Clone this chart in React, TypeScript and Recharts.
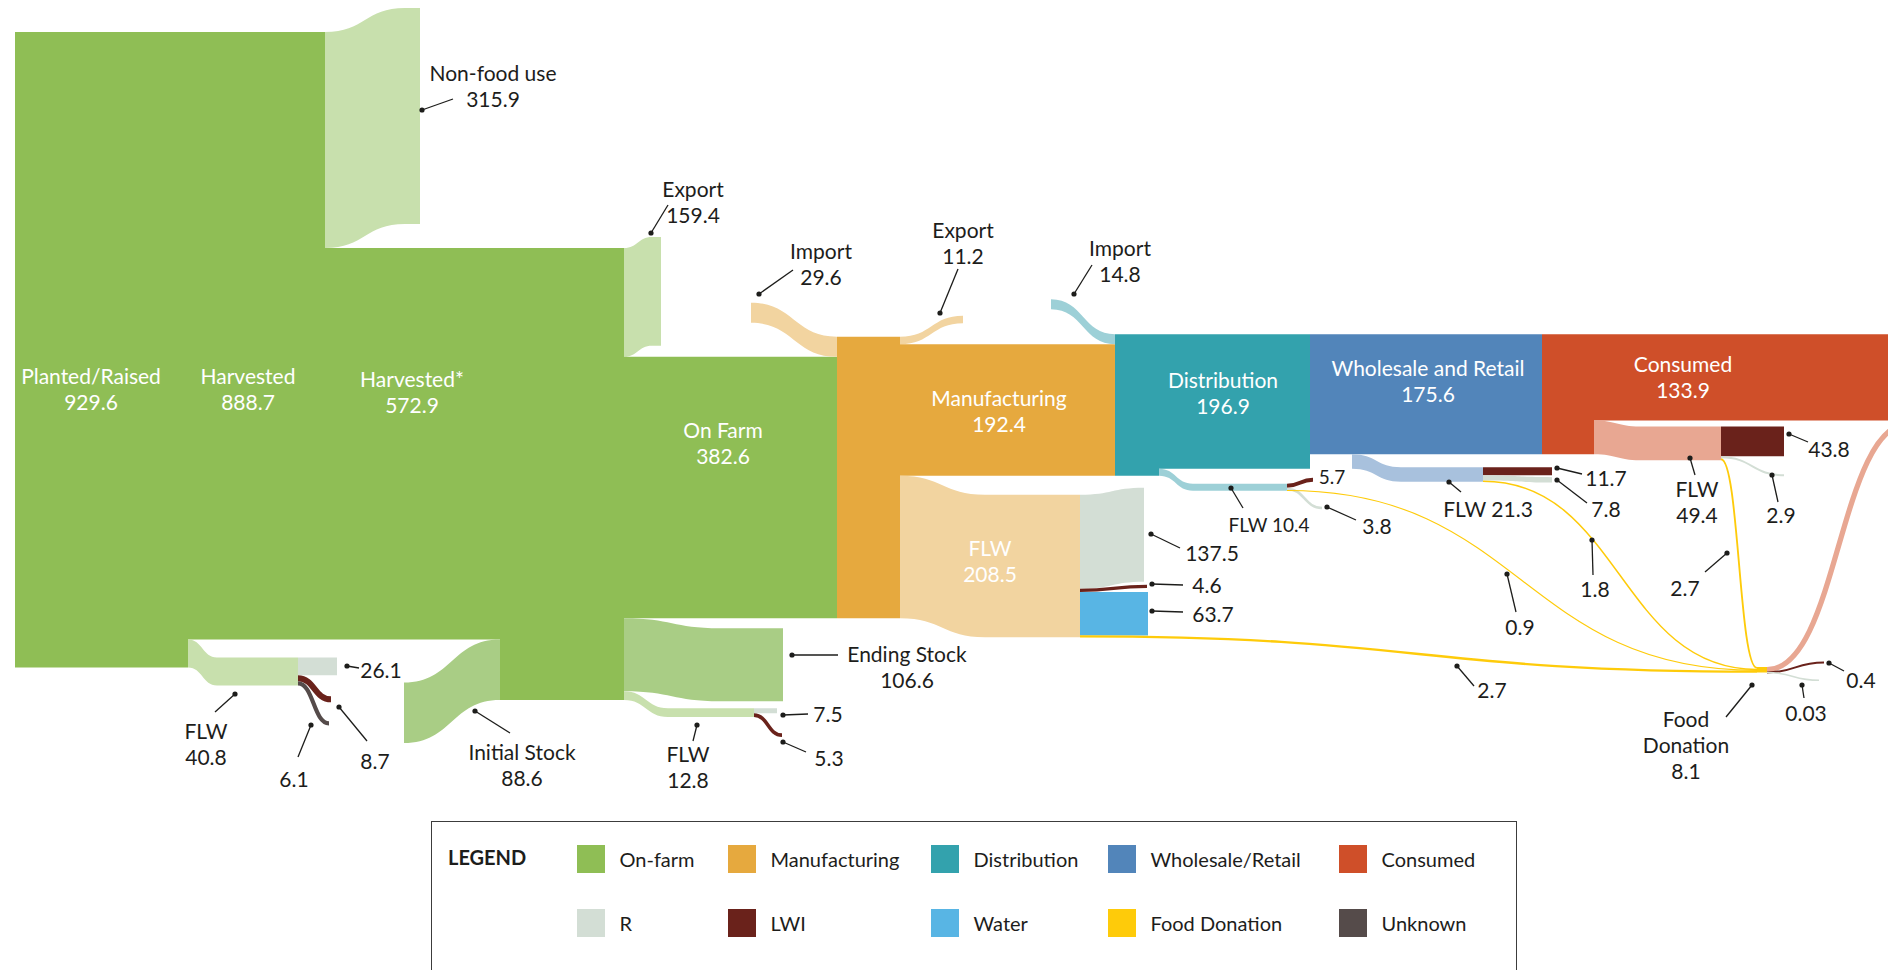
import React from 'react';
import { ComposedChart, XAxis, YAxis, Scatter, ReferenceArea, ReferenceLine, ReferenceDot } from 'recharts';

const W = 1888;
const H = 970;
const K = 0.6835; // px per unit of flow
const FONT = 'Lato, "Open Sans", sans-serif';
const INK = '#1d1d1b';

// main stream stages
const stageLabels = ['Planted/Raised', 'Harvested', 'Harvested*', 'On Farm', 'Manufacturing', 'Distribution', 'Wholesale and Retail', 'Consumed'];
const stageValues = [929.6, 888.7, 572.9, 382.6, 192.4, 196.9, 175.6, 133.9];

// flows joining or leaving the stream
const sideLabels = ['Non-food use', 'Export', 'Initial Stock', 'Ending Stock', 'Import', 'Export', 'Import'];
const sideValues = [315.9, 159.4, 88.6, 106.6, 29.6, 11.2, 14.8];

// FLW at each stage and where it goes
const flwTotals = [40.8, 12.8, 208.5, 10.4, 21.3, 49.4];
const flwToR = [26.1, 7.5, 137.5, 3.8, 7.8, 2.9];
const flwToLWI = [8.7, 5.3, 4.6, 5.7, 11.7, 43.8];
const flwToWater = [0, 0, 63.7, 0, 0, 0];
const flwToUnknown = [6.1, 0, 0, 0, 0, 0];
const flwToDonation = [0, 0, 2.7, 0.9, 1.8, 2.7];

// food donation -> consumed, LWI, unknown
const donationTotal = 8.1;
const donationOut = [7.7, 0.4, 0.03];

const C = {
  green: '#8fbe55', greenLight: '#c8e0ad', greenMid: '#a9cd85',
  orange: '#e6a93e', orangeLight: '#f2d4a0',
  teal: '#33a2ad', tealLight: '#9dd0d7',
  blue: '#5285ba', blueLight: '#a8c1dd',
  red: '#cf4f29', pink: '#e8a792',
  r: '#d3ded5', lwi: '#6a221b', water: '#58b5e4', fd: '#fecb0a', unknown: '#554b4a',
};

const legendLabels = ['On-farm', 'Manufacturing', 'Distribution', 'Wholesale/Retail', 'Consumed', 'R', 'LWI', 'Water', 'Food Donation', 'Unknown'];
const legendColors = [C.green, C.orange, C.teal, C.blue, C.red, C.r, C.lwi, C.water, C.fd, C.unknown];

// ---- layout (x in px, y in flow units) ----
type Mark = { x1: number; x2: number; s: number; t: number; v: number; fill: string; line?: boolean; minW?: number };
const marks: Mark[] = [];
const u = (px: number) => px / K;
const band = (x1: number, x2: number, s: number, t: number, v: number, fill: string) => marks.push({ x1, x2, s, t, v, fill });
const line = (x1: number, x2: number, s: number, t: number, v: number, fill: string, minW = 1.1) =>
  marks.push({ x1, x2, s, t, v, fill, line: true, minW });

const [P, HV, HS, OF, MF, DS, WR] = stageValues;
const [NF, EX1, IS, ES, IM1, EX2, IM2] = sideValues;
const top = u(32);

// on farm
band(15, 188, top, top, P, C.green);
band(188, 325, top, top, HV, C.green);
const f0s = top + P - flwTotals[0];
const f0 = f0s + u(18);
band(188, 217, f0s, f0, flwTotals[0], C.greenLight);
band(217, 298, f0, f0, flwTotals[0], C.greenLight);
band(298, 337, f0, f0, flwToR[0], C.r);
line(298, 331, f0 + flwToR[0], f0 + flwToR[0] + u(21), flwToLWI[0], C.lwi);
line(298, 329, f0 + flwToR[0] + flwToLWI[0], f0 + flwToR[0] + flwToLWI[0] + u(40), flwToUnknown[0], C.unknown);

band(325, 405, top, top - u(24), NF, C.greenLight);
band(405, 420, top - u(24), top - u(24), NF, C.greenLight);
band(325, 500, top + NF, top + NF, HS, C.green);
band(404, 500, top + HV + u(43), top + HV, IS, C.greenMid);
band(500, 624, top + NF, top + NF, HS + IS, C.green);
band(624, 652, top + NF, top + NF - u(11), EX1, C.greenLight);
band(652, 661, top + NF - u(11), top + NF - u(11), EX1, C.greenLight);

const ofTop = top + NF + EX1;
band(624, 837, ofTop, ofTop, OF, C.green);
const esTop = ofTop + OF;
band(624, 720, esTop, esTop + u(10), ES, C.greenMid);
band(720, 783, esTop + u(10), esTop + u(10), ES, C.greenMid);
const f1s = esTop + ES;
const f1 = f1s + u(17);
band(624, 668, f1s, f1, flwTotals[1], C.greenLight);
band(668, 754, f1, f1, flwTotals[1], C.greenLight);
band(754, 777, f1, f1, flwToR[1], C.r);
line(754, 782, f1 + flwToR[1], f1 + flwToR[1] + u(20), flwToLWI[1], C.lwi);

// manufacturing
const mTop = ofTop - IM1;
band(751, 837, mTop - u(34), mTop, IM1, C.orangeLight);
band(837, 900, mTop, mTop, IM1 + OF, C.orange);
band(900, 963, mTop, mTop - u(21), EX2, C.orangeLight);
const m2 = mTop + EX2;
band(900, 1115, m2, m2, MF, C.orange);
const f2s = m2 + MF;
const f2 = f2s + u(19);
band(900, 985, f2s, f2, flwTotals[2], C.orangeLight);
band(985, 1080, f2, f2, flwTotals[2], C.orangeLight);
band(1080, 1144, f2, f2 - u(7), flwToR[2], C.r);
line(1080, 1147, f2 + flwToR[2], f2 + flwToR[2] - u(4), flwToLWI[2], C.lwi, 2.4);
const w2 = f2 + flwToR[2] + flwToLWI[2];
band(1080, 1148, w2, w2, flwToWater[2], C.water);
const fd2 = w2 + flwToWater[2];

// distribution
const dTop = m2 - IM2;
band(1051, 1115, dTop - u(35), dTop, IM2, C.tealLight);
band(1115, 1159, dTop, dTop, IM2 + MF, C.teal);
band(1159, 1310, dTop, dTop, DS, C.teal);
const f3s = dTop + DS;
const f3 = f3s + u(15);
band(1159, 1193, f3s, f3, flwTotals[3], C.tealLight);
band(1193, 1287, f3, f3, flwTotals[3], C.tealLight);
line(1287, 1313, f3, f3 - u(6), flwToLWI[3], C.lwi);
line(1287, 1322, f3 + flwToLWI[3], f3 + flwToLWI[3] + u(19), flwToR[3], C.r);
const fd3 = f3 + flwToLWI[3] + flwToR[3];

// wholesale and retail
band(1310, 1542, dTop, dTop, WR, C.blue);
const f4s = dTop + WR;
const f4 = f4s + u(13);
band(1352, 1401, f4s, f4, flwTotals[4], C.blueLight);
band(1401, 1483, f4, f4, flwTotals[4], C.blueLight);
band(1483, 1552, f4, f4, flwToLWI[4], C.lwi);
band(1483, 1552, f4 + flwToLWI[4], f4 + flwToLWI[4] + u(2), flwToR[4], C.r);
const fd4 = f4 + flwToLWI[4] + flwToR[4];

// consumed
band(1542, 1594, dTop, dTop, WR, C.red);
const c2 = WR - flwTotals[5];
band(1594, W, dTop, dTop, c2, C.red);
const f5s = dTop + c2;
const f5 = f5s + u(6);
band(1594, 1640, f5s, f5, flwTotals[5], C.pink);
band(1640, 1721, f5, f5, flwTotals[5], C.pink);
band(1721, 1784, f5, f5, flwToLWI[5], C.lwi);
line(1721, 1784, f5 + flwToLWI[5], f5 + flwToLWI[5] + u(18), flwToR[5], C.r);
const fd5 = f5 + flwToLWI[5] + flwToR[5];

// food donation
const fdTop = u(667);
let q = fdTop;
line(1721, 1757, fd5, q, flwToDonation[5], C.fd, 1.6); q += flwToDonation[5];
line(1483, 1757, fd4, q, flwToDonation[4], C.fd, 1.5); q += flwToDonation[4];
line(1287, 1757, fd3, q, flwToDonation[3], C.fd, 1.1); q += flwToDonation[3];
line(1080, 1757, fd2, q, flwToDonation[2], C.fd, 2.4);
band(1757, 1767, fdTop, fdTop, donationTotal, C.fd);
line(1767, 1910, fdTop, dTop + c2, donationOut[0], C.pink);
line(1767, 1824, fdTop + donationOut[0], fdTop + donationOut[0] - u(10), donationOut[1], C.lwi, 2);
line(1767, 1819, fdTop + donationOut[0] + donationOut[1], fdTop + donationOut[0] + u(8), donationOut[2], C.r, 1.5);

// ---- labels ----
type Note = { text: string[]; at: [number, number]; dot?: [number, number]; end?: [number, number]; size?: number };
const fmt = (v: number) => String(v);

const inside: Note[] = [
  { text: [stageLabels[0], fmt(stageValues[0])], at: [91, 375] },
  { text: [stageLabels[1], fmt(stageValues[1])], at: [248, 375] },
  { text: [stageLabels[2], fmt(stageValues[2])], at: [412, 378] },
  { text: [stageLabels[3], fmt(stageValues[3])], at: [723, 429] },
  { text: [stageLabels[4], fmt(stageValues[4])], at: [999, 397] },
  { text: ['FLW', fmt(flwTotals[2])], at: [990, 547] },
  { text: [stageLabels[5], fmt(stageValues[5])], at: [1223, 379] },
  { text: [stageLabels[6], fmt(stageValues[6])], at: [1428, 367] },
  { text: [stageLabels[7], fmt(stageValues[7])], at: [1683, 363] },
];

const notes: Note[] = [
  { text: [sideLabels[0], fmt(sideValues[0])], at: [493, 72], dot: [422, 110], end: [453, 99] },
  { text: [sideLabels[1], fmt(sideValues[1])], at: [693, 188], dot: [651, 233], end: [668, 205] },
  { text: [sideLabels[4], fmt(sideValues[4])], at: [821, 250], dot: [759, 294], end: [793, 270] },
  { text: [sideLabels[5], fmt(sideValues[5])], at: [963, 229], dot: [940, 313], end: [958, 269] },
  { text: [sideLabels[6], fmt(sideValues[6])], at: [1120, 247], dot: [1074, 294], end: [1092, 265] },
  { text: [sideLabels[2], fmt(sideValues[2])], at: [522, 751], dot: [475, 711], end: [510, 733] },
  { text: [sideLabels[3], fmt(sideValues[3])], at: [907, 653], dot: [792, 655], end: [838, 655] },
  { text: ['FLW', fmt(flwTotals[0])], at: [206, 730], dot: [235, 694], end: [215, 712] },
  { text: [fmt(flwToR[0])], at: [381, 669], dot: [347, 666], end: [359, 668] },
  { text: [fmt(flwToLWI[0])], at: [375, 760], dot: [339, 707], end: [367, 741] },
  { text: [fmt(flwToUnknown[0])], at: [294, 778], dot: [311, 725], end: [298, 757] },
  { text: ['FLW', fmt(flwTotals[1])], at: [688, 753], dot: [697, 725], end: [693, 741] },
  { text: [fmt(flwToR[1])], at: [828, 713], dot: [783, 715], end: [808, 714] },
  { text: [fmt(flwToLWI[1])], at: [829, 757], dot: [783, 742], end: [806, 752] },
  { text: [fmt(flwToR[2])], at: [1212, 552], dot: [1151, 534], end: [1180, 548] },
  { text: [fmt(flwToLWI[2])], at: [1207, 584], dot: [1152, 584], end: [1183, 585] },
  { text: [fmt(flwToWater[2])], at: [1213, 613], dot: [1152, 611], end: [1183, 612] },
  { text: [fmt(flwToDonation[2])], at: [1492, 689], dot: [1457, 666], end: [1474, 686] },
  { text: ['FLW ' + fmt(flwTotals[3])], at: [1269, 524], dot: [1231, 488], end: [1243, 508], size: 19 },
  { text: [fmt(flwToLWI[3])], at: [1332, 476], size: 19 },
  { text: [fmt(flwToR[3])], at: [1377, 525], dot: [1327, 507], end: [1356, 520] },
  { text: [fmt(flwToDonation[3])], at: [1520, 626], dot: [1507, 574], end: [1516, 612] },
  { text: ['FLW ' + fmt(flwTotals[4])], at: [1488, 508], dot: [1449, 482], end: [1461, 492] },
  { text: [fmt(flwToLWI[4])], at: [1606, 477], dot: [1557, 468], end: [1582, 474] },
  { text: [fmt(flwToR[4])], at: [1606, 508], dot: [1557, 480], end: [1587, 503] },
  { text: [fmt(flwToDonation[4])], at: [1595, 588], dot: [1592, 540], end: [1593, 575] },
  { text: ['FLW', fmt(flwTotals[5])], at: [1697, 488], dot: [1690, 458], end: [1695, 475] },
  { text: [fmt(flwToLWI[5])], at: [1829, 448], dot: [1789, 434], end: [1808, 442] },
  { text: [fmt(flwToR[5])], at: [1781, 514], dot: [1772, 475], end: [1778, 502] },
  { text: [fmt(flwToDonation[5])], at: [1685, 587], dot: [1727, 553], end: [1705, 572] },
  { text: ['Food', 'Donation', fmt(donationTotal)], at: [1686, 718], dot: [1752, 685], end: [1726, 717] },
  { text: [fmt(donationOut[1])], at: [1861, 679], dot: [1829, 663], end: [1844, 671] },
  { text: [fmt(donationOut[2])], at: [1806, 712], dot: [1802, 685], end: [1804, 698] },
];

const dotData = notes.filter((n) => n.dot).map((n) => ({ x: n.dot![0], y: u(n.dot![1]) }));

// draws a flow band (or a stroked line) inside the box the library computed
const markShape = (m: Mark) => (p: any) => {
  const { x, y, width, height } = p;
  const y1 = Math.min(m.s, m.t);
  const y2 = Math.max(m.s, m.t) + m.v;
  const ppu = height / (y2 - y1);
  const py = (v: number) => y + (v - y1) * ppu;
  const x0 = x;
  const x1 = x + width;
  const xm = (x0 + x1) / 2;
  if (m.line) {
    const a = py(m.s + m.v / 2);
    const b = py(m.t + m.v / 2);
    return (
      <path d={`M${x0},${a}C${xm},${a} ${xm},${b} ${x1},${b}`} fill="none" stroke={m.fill}
        strokeWidth={Math.max(m.v * ppu, m.minW ?? 1.1)} />
    );
  }
  const s0 = py(m.s), s1 = py(m.s + m.v), t0 = py(m.t), t1 = py(m.t + m.v);
  return (
    <path d={`M${x0},${s0}C${xm},${s0} ${xm},${t0} ${x1},${t0}L${x1},${t1}C${xm},${t1} ${xm},${s1} ${x0},${s1}Z`} fill={m.fill} />
  );
};

const textShape = (str: string, size: number, color: string) => (p: any) => (
  <text x={p.cx} y={p.cy} textAnchor="middle" dominantBaseline="central" fontFamily={FONT} fontSize={size} fill={color}>
    {str}
  </text>
);

function renderNote(n: Note, key: string, color: string) {
  const size = n.size ?? 21;
  const out: React.ReactNode[] = n.text.map((s, i) => (
    <ReferenceDot key={`${key}-t${i}`} x={n.at[0]} y={u(n.at[1] + i * 26)} r={1} ifOverflow="visible" shape={textShape(s, size, color)} />
  ));
  if (n.dot && n.end) {
    out.push(
      <ReferenceLine key={`${key}-l`} ifOverflow="visible" stroke={INK} strokeWidth={1.3}
        segment={[{ x: n.dot[0], y: u(n.dot[1]) }, { x: n.end[0], y: u(n.end[1]) }]} />
    );
  }
  return out;
}

const swatchX = [577, 728, 931, 1108, 1339];

function LegendBox() {
  const left0 = 431;
  const top0 = 821;
  return (
    <div style={{ position: 'absolute', left: left0, top: top0, width: 1086, height: 170, border: '1.5px solid #3c3c3c', boxSizing: 'border-box', fontFamily: FONT, color: INK }}>
      <div style={{ position: 'absolute', left: 16, top: 22, fontWeight: 700, fontSize: 20, lineHeight: '26px' }}>LEGEND</div>
      {legendLabels.map((label, i) => {
        const col = i % 5;
        const row = Math.floor(i / 5);
        const left = swatchX[col] - left0 - 1.5;
        const top = (row === 0 ? 845 : 909) - top0 - 1.5;
        return (
          <React.Fragment key={label}>
            <div style={{ position: 'absolute', left, top, width: 28, height: 28, background: legendColors[i] }} />
            <div style={{ position: 'absolute', left: left + 43, top, height: 28, lineHeight: '28px', fontSize: 20, whiteSpace: 'nowrap' }}>{label}</div>
          </React.Fragment>
        );
      })}
    </div>
  );
}

export default function App() {
  return (
    <div style={{ position: 'fixed', left: 0, top: 0, width: W, height: H, overflow: 'hidden', background: '#fff' }}>
      <ComposedChart width={W} height={H} margin={{ top: 0, right: 0, bottom: 0, left: 0 }}>
        <XAxis type="number" dataKey="x" domain={[0, W]} hide allowDataOverflow />
        <YAxis type="number" dataKey="y" domain={[0, H / K]} hide reversed allowDataOverflow />
        {marks.map((m, i) => (
          <ReferenceArea key={`m${i}`} x1={m.x1} x2={m.x2} y1={Math.min(m.s, m.t)} y2={Math.max(m.s, m.t) + m.v}
            ifOverflow="visible" shape={markShape(m)} />
        ))}
        {inside.map((n, i) => renderNote(n, `in${i}`, '#ffffff'))}
        {notes.map((n, i) => renderNote(n, `n${i}`, INK))}
        <Scatter data={dotData} isAnimationActive={false}
          shape={(p: any) => <circle cx={p.cx} cy={p.cy} r={2.6} fill={INK} />} />
      </ComposedChart>
      <LegendBox />
    </div>
  );
}
